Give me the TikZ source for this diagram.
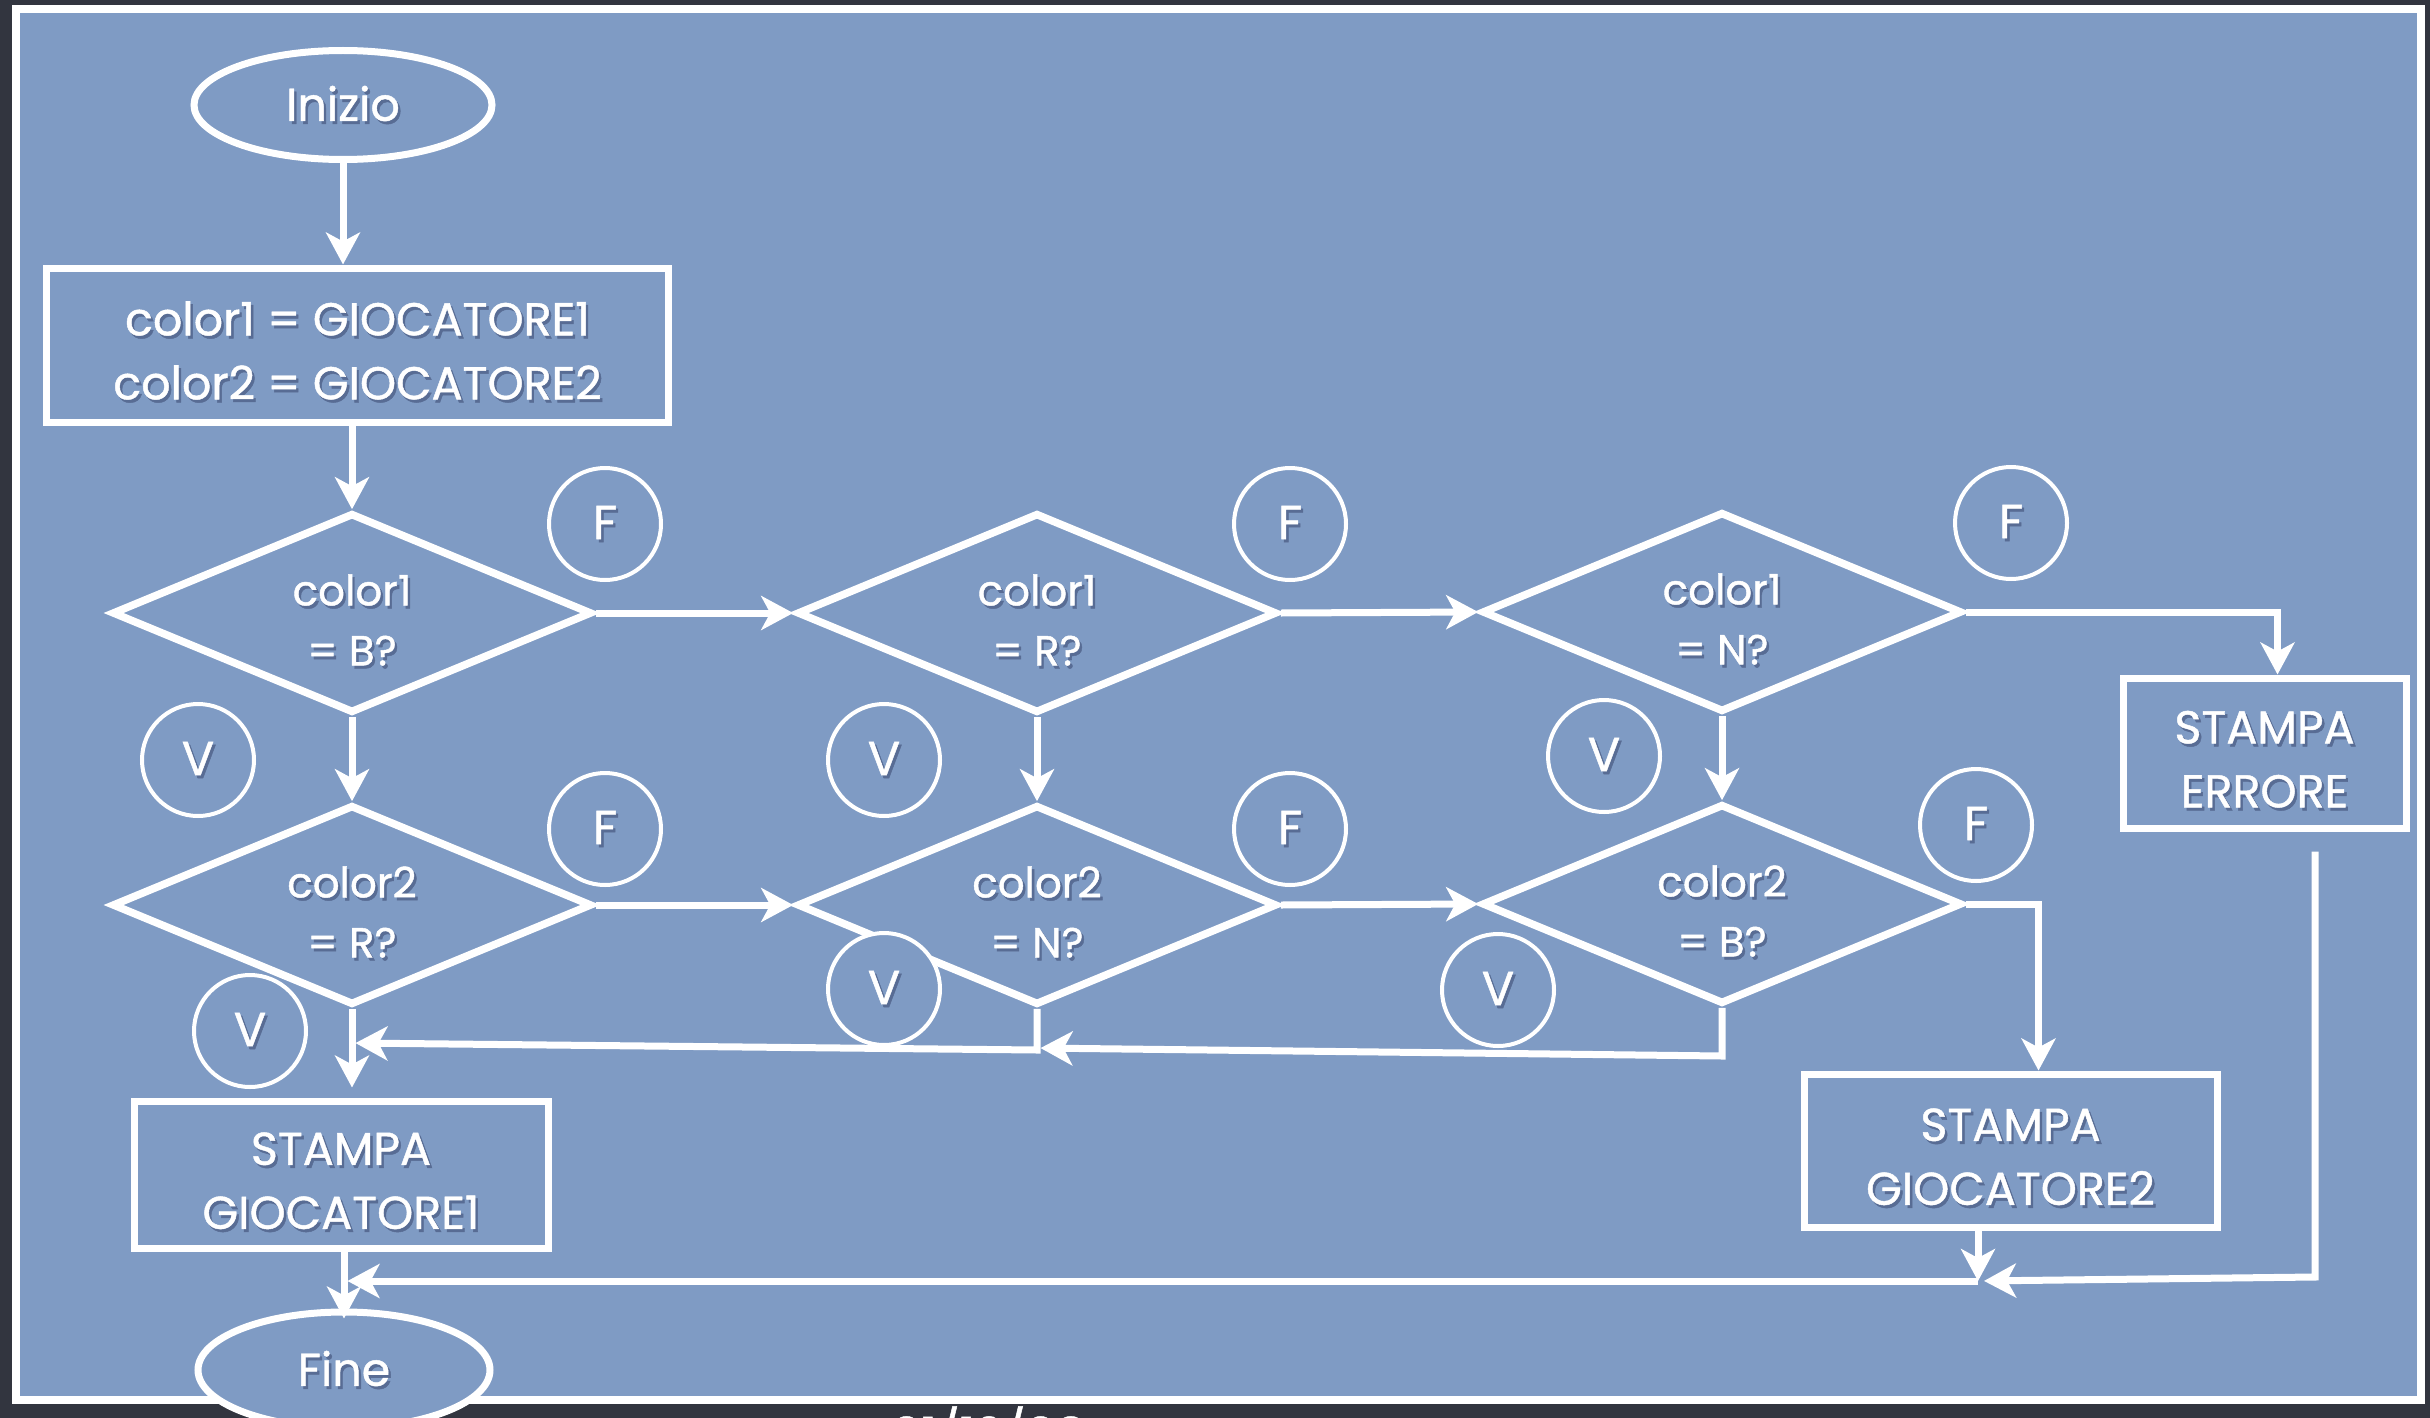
\documentclass[tikz,border=0pt]{standalone}
\usepackage{fontspec}
\setmainfont{Poppins}[FakeBold=1]
\usetikzlibrary{shapes.geometric,arrows.meta,calc}

\definecolor{slate}{RGB}{50,53,63}
\definecolor{board}{RGB}{127,155,196}
\definecolor{chalkshade}{RGB}{88,108,148}

% white chalk text with a soft dark drop shadow
\newcommand\chalk[1]{\leavevmode\rlap{\kern1.2pt\raisebox{-1.5pt}{\textcolor{chalkshade}{#1}}}#1}
% first line of a two-line label, with extra head room
\newcommand\chalktop[1]{\rule{0pt}{24pt}\chalk{#1}}

\begin{document}
\begin{tikzpicture}[x=0.5pt,y=-0.5pt,
  every node/.style={text=white, inner sep=0pt, align=center},
  term/.style={draw=white, fill=board, line width=3.5pt, ellipse, font=\fontsize{23}{31}\selectfont},
  proc/.style={draw=white, line width=3.5pt, rectangle, font=\fontsize{23}{32}\selectfont},
  test/.style={draw=white, line width=3.8pt, diamond, aspect=2.4, minimum width=240pt, minimum height=100pt,
               font=\fontsize{21}{30}\selectfont},
  tag/.style={draw=white, fill=board, line width=2pt, circle, minimum size=56pt,
              font=\fontsize{24}{24}\selectfont},
  flow/.style={draw=white, line width=3.5pt, -{Stealth[length=16pt,width=17pt,inset=4.5pt]}},
]
\useasboundingbox (0,0) rectangle (2430,1418);

% slate backdrop and the framed board
\fill[slate] (0,0) rectangle (2430,1418);
\draw[white, line width=4pt, fill=board] (16,9) rectangle (2421,1400);

% date line below the board
\node[anchor=north west, font=\fontsize{24}{24}\selectfont] (date) at (891,1406) {01/12/08};

% terminals and processing boxes
\node[term, minimum width=149pt, minimum height=54.5pt] (start) at (343,105) {\chalk{Inizio}};
\node[proc, minimum width=311pt, minimum height=77pt] (init) at (357.5,345)
  {\chalktop{color1 = GIOCATORE1}\\\chalk{color2 = GIOCATORE2}};
\node[proc, minimum width=141.5pt, minimum height=75pt] (err) at (2264.5,753)
  {\chalktop{STAMPA}\\\chalk{ERRORE}};
\node[proc, minimum width=207pt, minimum height=73.5pt] (g1) at (341,1174.5)
  {\chalktop{STAMPA}\\\chalk{GIOCATORE1}};
\node[proc, minimum width=206.5pt, minimum height=76.5pt] (g2) at (2010.5,1150.5)
  {\chalktop{STAMPA}\\\chalk{GIOCATORE2}};
\node[term, minimum width=146pt, minimum height=58pt] (fine) at (344,1370) {\chalk{Fine}};

% decisions
\node[test] (q1) at (352,613)  {\chalktop{color1}\\\chalk{= B?}};
\node[test] (q2) at (1037,613) {\chalktop{color1}\\\chalk{= R?}};
\node[test] (q3) at (1722,612) {\chalktop{color1}\\\chalk{= N?}};
\node[test] (q4) at (352,905)  {\chalktop{color2}\\\chalk{= R?}};
\node[test] (q5) at (1037,905) {\chalktop{color2}\\\chalk{= N?}};
\node[test] (q6) at (1722,904) {\chalktop{color2}\\\chalk{= B?}};

% junction points of the return lines
\coordinate (m5) at (1037,1050);
\coordinate (m5end) at (352,1043);
\coordinate (m6) at (1722,1056);
\coordinate (m6end) at (1037,1048);
\coordinate (j) at (1978,1281);
\coordinate (eb) at (2315,1277);

% main flow
\draw[flow] (start.south) -- (start.south |- init.north);
\draw[flow] (init.south -| q1.north) -- (q1.north);
\draw[flow] (q1.east) -- (q2.west);
\draw[flow] (q2.east) -- (q3.west);
\draw[flow] (q3.east) -| ([xshift=6.5pt]err.north);
\draw[flow] (q1.south) -- (q4.north);
\draw[flow] (q2.south) -- (q5.north);
\draw[flow] (q3.south) -- (q6.north);
\draw[flow] (q4.east) -- (q5.west);
\draw[flow] (q5.east) -- (q6.west);
\draw[flow] (q6.east) -| ([xshift=14pt]g2.north);
\draw[flow, shorten >=5pt] (q4.south) -- (q4.south |- g1.north);
\draw[flow, shorten >=1.75pt] (q5.south) -- (m5) -- (m5end);
\draw[flow, shorten >=1.75pt] (q6.south) -- (m6) -- (m6end);
\draw[flow, shorten >=-5pt] (fine.north |- g1.south) -- (fine.north);
\draw[flow] (j |- g2.south) -- (j);
\draw[flow, shorten >=1.75pt] (j) -- (j -| fine.north);
\draw[flow, shorten <=10pt, shorten >=3pt] (err.south -| eb) -- (eb) -- (j);

% outcome tags
\node[tag] (f1) at (605,524)  {\chalk{F}};
\node[tag] (f2) at (1290,524) {\chalk{F}};
\node[tag] (f3) at (2011,523) {\chalk{F}};
\node[tag] (f4) at (605,829)  {\chalk{F}};
\node[tag] (f5) at (1290,829) {\chalk{F}};
\node[tag] (f6) at (1976,825) {\chalk{F}};
\node[tag] (v1) at (198,760)  {\chalk{V}};
\node[tag] (v2) at (884,760)  {\chalk{V}};
\node[tag] (v3) at (1604,756) {\chalk{V}};
\node[tag] (v4) at (250,1031) {\chalk{V}};
\node[tag] (v5) at (884,989)  {\chalk{V}};
\node[tag] (v6) at (1498,990) {\chalk{V}};
\end{tikzpicture}
\end{document}
